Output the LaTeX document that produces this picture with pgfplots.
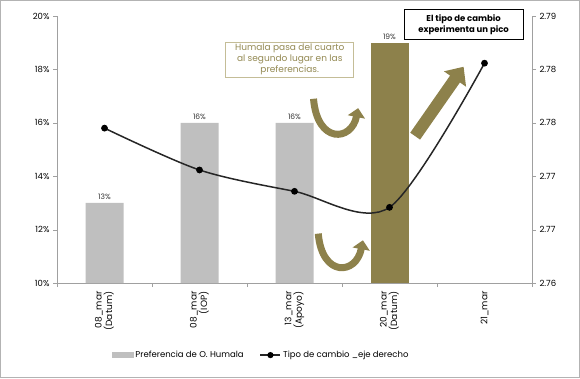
\documentclass[border=0pt]{standalone}
\usepackage{pgfplots}
\pgfplotsset{compat=1.18}
\usepackage{fontspec}
\setmainfont{Poppins}
\usetikzlibrary{arrows.meta}
\definecolor{barGray}{RGB}{191,191,191}
\definecolor{oliveBar}{RGB}{141,129,75}
\definecolor{oliveTxt}{RGB}{148,138,84}
\definecolor{oliveBorder}{RGB}{196,189,151}
\definecolor{axGray}{RGB}{160,160,160}
\definecolor{lineDark}{RGB}{38,38,38}
\begin{document}
\begin{tikzpicture}
\useasboundingbox (0pt,0pt) rectangle (580pt,378pt);
\draw[color=axGray!80] (0.5pt,0.5pt) rectangle (579.5pt,377.5pt);
\begin{axis}[
  at={(57pt,95pt)}, anchor=south west,
  scale only axis, width=475pt, height=267pt,
  xmin=-0.5, xmax=4.5, ymin=10, ymax=20,
  axis x line*=bottom, axis y line*=left,
  axis line style={color=axGray, line width=0.6pt},
  xtick={0,1,2,3,4},
  xticklabels={{08\_mar\\(Datum)},{08\_mar\\(IOP)},{13\_mar\\(Apoyo)},{20\_mar\\(Datum)},{21\_mar}},
  major x tick style={draw=none},
  minor xtick={-0.5,0.5,1.5,2.5,3.5,4.5},
  minor tick length=4pt,
  minor x tick style={color=axGray},
  xticklabel style={rotate=90, anchor=east, align=right, font=\fontsize{9}{9.5}\selectfont, text=black, xshift=-1pt},
  ytick={10,12,14,16,18,20},
  yticklabel={\pgfmathprintnumber{\tick}\%},
  yticklabel style={font=\fontsize{8.5}{10}\selectfont},
  major y tick style={color=axGray},
  major tick length=4pt,
  tick align=outside,
  /pgf/number format/assume math mode=true,
  ybar, bar width=38pt,
  clip=false,
  nodes near coords={\pgfmathprintnumber{\pgfplotspointmeta}\%},
  nodes near coords style={font=\fontsize{7.5}{9}\selectfont, text=black!80, /pgf/number format/assume math mode=true},
]
\addplot[fill=barGray, draw=none, bar shift=0pt] coordinates {(0,13) (1,16) (2,16)};
\addplot[fill=oliveBar, draw=none, bar shift=0pt] coordinates {(3,19)};
% annotations
\node[draw=oliveBorder, line width=0.8pt, fill=white, text=oliveTxt, align=center,
      font=\fontsize{9}{11}\selectfont, minimum width=128pt, minimum height=35pt, inner sep=1.5pt]
  at (axis cs:1.95,18.37) {Humala pasa del cuarto\\al segundo lugar en las\\preferencias.};
\draw[oliveBar, line width=7pt, -{Triangle[width=17pt,length=9pt]}]
  (axis cs:2.2,16.9) .. controls (axis cs:2.24,15.2) and (axis cs:2.6,15.3) .. (axis cs:2.67,16.55);
\draw[oliveBar, line width=7pt, -{Triangle[width=17pt,length=9pt]}]
  (axis cs:2.25,11.85) .. controls (axis cs:2.29,10.2) and (axis cs:2.65,10.3) .. (axis cs:2.72,11.6);
\draw[oliveBar, line width=12pt, -{Triangle[width=26pt,length=15pt]}]
  (axis cs:3.27,15.5) -- (axis cs:3.78,18.1);
\end{axis}
\begin{axis}[
  at={(57pt,95pt)}, anchor=south west,
  scale only axis, width=475pt, height=267pt,
  xmin=-0.5, xmax=4.5, ymin=2.76, ymax=2.79,
  axis x line=none, axis y line*=right,
  axis line style={color=axGray, line width=0.6pt},
  ytick={2.76,2.766,2.772,2.778,2.784,2.79},
  yticklabel style={font=\fontsize{8.5}{10}\selectfont, /pgf/number format/.cd, fixed, fixed zerofill, precision=2, assume math mode=true},
  major y tick style={color=axGray},
  major tick length=4pt,
  tick align=outside,
  clip=false,
  legend columns=2,
  legend style={draw=none, fill=none, at={(0.43,-0.27)}, anchor=center,
    font=\fontsize{8.5}{10}\selectfont, /tikz/every even column/.append style={column sep=14pt}},
  legend cell align=left,
]
\addlegendimage{legend image code/.code={\fill[barGray] (0pt,-2.5pt) rectangle (21pt,2.5pt);}}
\addlegendentry{Preferencia de O. Humala}
\addplot[color=lineDark, line width=1.5pt, smooth, tension=0.5, mark=*, mark size=2.6pt, mark options={fill=black, draw=black},
  legend image code/.code={\draw[lineDark, line width=1.5pt] (0pt,0pt) -- (20pt,0pt); \fill[black] (10pt,0pt) circle (2.3pt);}]
  coordinates {(0,2.7774) (1,2.7727) (2,2.7703) (3,2.7685) (4,2.7847)};
\addlegendentry{Tipo de cambio \_eje derecho}
\node[draw=black, line width=0.8pt, fill=white, align=center,
      font=\bfseries\fontsize{8.5}{10.5}\selectfont, minimum width=119pt, minimum height=30pt, inner sep=1.5pt]
  at (axis cs:3.78,2.7890) {El tipo de cambio\\experimenta un pico};
\end{axis}
\end{tikzpicture}
\end{document}
